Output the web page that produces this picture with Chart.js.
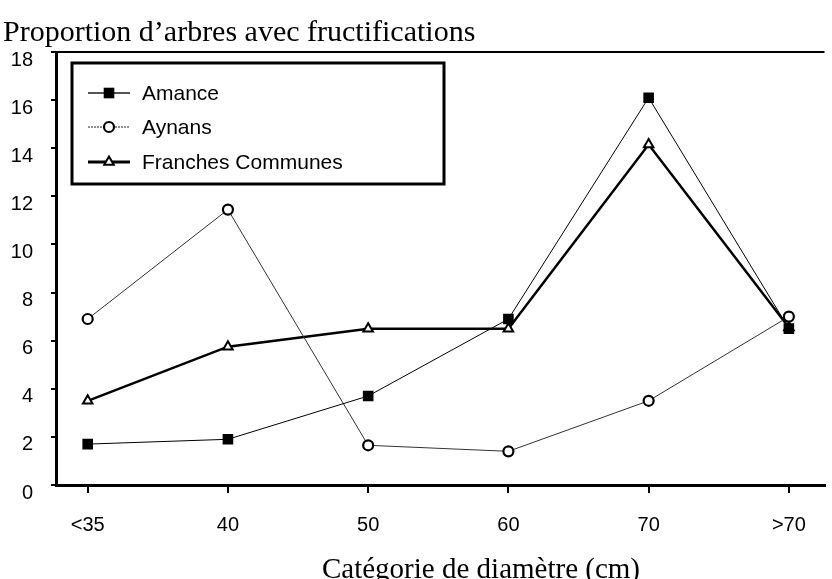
<!DOCTYPE html>
<html>
<head>
<meta charset="utf-8">
<script src="https://cdn.jsdelivr.net/npm/chart.js@4/dist/chart.umd.min.js"></script>
<style>
html,body{margin:0;padding:0;background:#fff;}
#wrap{width:832px;height:579px;position:relative;}
</style>
</head>
<body>
<div id="wrap"><canvas id="c" width="832" height="579"></canvas></div>
<script>
// ---- data ----
const categories = ["<35", "40", "50", "60", "70", ">70"];
const amance = [1.7, 1.9, 3.7, 6.9, 16.1, 6.5];
const aynans = [6.9, 11.45, 1.65, 1.4, 3.5, 7.0];
const franchesCommunes = [3.5, 5.75, 6.5, 6.5, 14.15, 6.55];
const seriesNames = ["Amance", "Aynans", "Franches Communes"];
const chartTitle = "Proportion d\u2019arbres avec fructifications";
const xTitle = "Cat\u00e9gorie de diam\u00e8tre (cm)";

const toPts = arr => arr.map((v, i) => ({x: i, y: v}));

const SANS = "'Liberation Sans', Arial, sans-serif";
const SERIF = "'Liberation Serif', 'Times New Roman', serif";

const datasets = [
  {label: seriesNames[0], data: toPts(amance), borderColor: '#000', borderWidth: 1,
   pointStyle: 'rect', pointRadius: 7.5, pointBackgroundColor: '#000', pointBorderColor: '#000', pointBorderWidth: 0,
   legendLineWidth: 2, legendLineColor: '#555', legendDash: []},
  {label: seriesNames[1], data: toPts(aynans), borderColor: '#333', borderWidth: 1,
   pointStyle: 'circle', pointRadius: 5, pointBackgroundColor: '#fff', pointBorderColor: '#000', pointBorderWidth: 2.2,
   legendLineWidth: 1, legendLineColor: '#222', legendDash: [2, 1]},
  {label: seriesNames[2], data: toPts(franchesCommunes), borderColor: '#000', borderWidth: 2.5,
   pointStyle: 'triangle', pointRadius: 5.5, pointBackgroundColor: '#fff', pointBorderColor: '#000', pointBorderWidth: 2,
   legendLineWidth: 3, legendLineColor: '#000', legendDash: []}
];
datasets.forEach(d => { d.fill = false; d.tension = 0; d.pointHoverRadius = d.pointRadius; });

function drawMarker(ctx, ds, x, y) {
  ctx.save();
  ctx.fillStyle = ds.pointBackgroundColor;
  ctx.strokeStyle = ds.pointBorderColor;
  ctx.lineWidth = ds.pointBorderWidth;
  ctx.setLineDash([]);
  const r = ds.pointRadius;
  ctx.beginPath();
  if (ds.pointStyle === 'rect') {
    const s = Math.SQRT1_2 * r;
    ctx.rect(x - s, y - s, 2 * s, 2 * s);
    ctx.fill();
  } else if (ds.pointStyle === 'circle') {
    ctx.arc(x, y, r, 0, Math.PI * 2);
    ctx.fill(); ctx.stroke();
  } else {
    ctx.moveTo(x, y - r);
    ctx.lineTo(x + r * Math.cos(Math.PI / 6), y + r * 0.5);
    ctx.lineTo(x - r * Math.cos(Math.PI / 6), y + r * 0.5);
    ctx.closePath();
    ctx.fill(); ctx.stroke();
  }
  ctx.restore();
}

const decor = {
  id: 'decor',
  afterDatasetsDraw(chart) {
    const ctx = chart.ctx;
    const a = chart.chartArea;
    ctx.save();
    // top frame line
    ctx.strokeStyle = '#000';
    ctx.lineWidth = 2;
    ctx.beginPath();
    ctx.moveTo(a.left, a.top);
    ctx.lineTo(a.right, a.top);
    ctx.stroke();
    // legend box
    const bx = 72, by = 63, bw = 372, bh = 121;
    ctx.fillStyle = '#fff';
    ctx.fillRect(bx, by, bw, bh);
    ctx.lineWidth = 3;
    ctx.strokeRect(bx, by, bw, bh);
    const rows = [93, 127, 162];
    chart.data.datasets.forEach((ds, i) => {
      const y = rows[i];
      ctx.save();
      ctx.strokeStyle = ds.legendLineColor;
      ctx.lineWidth = ds.legendLineWidth;
      ctx.setLineDash(ds.legendDash);
      ctx.beginPath();
      ctx.moveTo(88, y);
      ctx.lineTo(130, y);
      ctx.stroke();
      ctx.restore();
      drawMarker(ctx, ds, 109, y);
      ctx.fillStyle = '#000';
      ctx.font = "21px " + SANS;
      ctx.textAlign = 'left';
      ctx.textBaseline = 'middle';
      ctx.fillText(ds.label, 142, y + 1);
    });
    // titles
    ctx.fillStyle = '#000';
    ctx.font = "30px " + SERIF;
    ctx.textAlign = 'left';
    ctx.textBaseline = 'middle';
    ctx.fillText(chartTitle, 3, 33);
    ctx.font = "29px " + SERIF;
    ctx.textAlign = 'center';
    ctx.fillText(xTitle, 481, 570);
    ctx.restore();
  }
};

new Chart(document.getElementById('c'), {
  type: 'line',
  data: {datasets},
  options: {
    responsive: false,
    animation: false,
    events: [],
    layout: {padding: {top: 52, left: 0, right: 0, bottom: 0}},
    plugins: {legend: {display: false}, tooltip: {enabled: false}, title: {display: false}},
    scales: {
      x: {
        type: 'linear',
        min: -0.226, max: 5.254,
        afterFit(s) { s.height = 579 - 485; },
        afterBuildTicks(s) { s.ticks = categories.map((c, i) => ({value: i})); },
        ticks: {
          callback: (v) => categories[v],
          font: {family: SANS, size: 20},
          color: '#000',
          padding: 20,
          maxRotation: 0,
          autoSkip: false
        },
        grid: {display: true, drawOnChartArea: false, drawTicks: true, tickLength: 8, tickWidth: 2, tickColor: '#000', lineWidth: 2, color: '#000'},
        border: {display: true, width: 3, color: '#000'}
      },
      y: {
        type: 'linear',
        min: 0, max: 18,
        afterFit(s) { s.width = 56; },
        afterBuildTicks(s) {
          const t = [];
          for (let v = 0; v <= 18; v++) t.push({value: v});
          s.ticks = t;
        },
        ticks: {
          callback: (v) => (v % 2 === 0 ? String(v) : ''),
          font: {family: SANS, size: 20},
          color: '#000',
          padding: 18,
          labelOffset: 8
        },
        grid: {display: true, drawOnChartArea: false, drawTicks: true, tickLength: 5, tickWidth: 2, tickColor: '#000', lineWidth: 2, color: '#000'},
        border: {display: true, width: 3, color: '#000'}
      }
    }
  },
  plugins: [decor]
});
</script>
</body>
</html>
